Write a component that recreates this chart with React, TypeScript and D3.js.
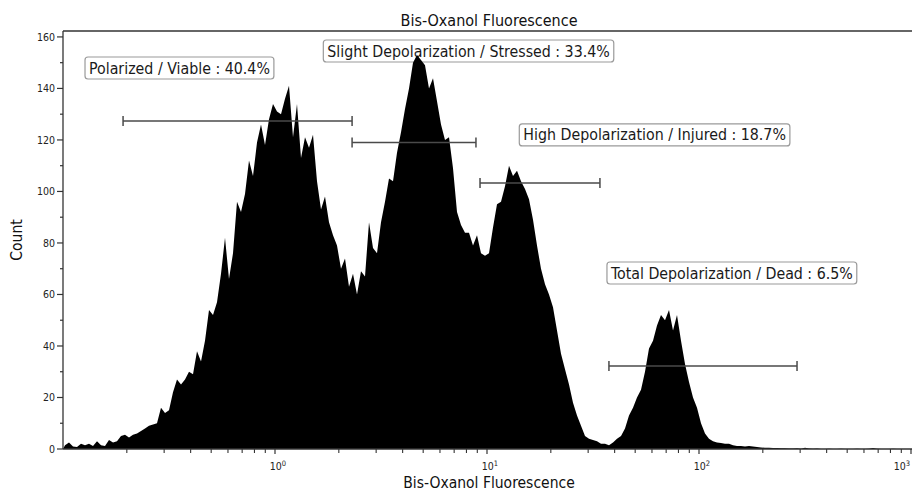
import React from 'react';
import * as d3 from 'd3';

const TITLE = 'Bis-Oxanol Fluorescence';
const X_LABEL = 'Bis-Oxanol Fluorescence';
const Y_LABEL = 'Count';

// log channels, 53 per decade starting at 10^-1
const CHANNELS_PER_DECADE = 53;
const X_MIN = 0.1;
const X_MAX = 1000;

// counts per channel
const COUNTS = [
  1.5, 2.5, 1, 0.8, 2, 1.5, 2, 1.2, 3, 1.5,
  1.2, 3.5, 2.5, 3, 5, 5.5, 4.5, 5.5, 6, 7,
  8, 9, 9.5, 10, 16, 14, 15, 22, 27, 25,
  27, 30, 29, 38, 34, 42, 54, 52, 57, 68,
  82, 66, 76, 96, 92, 99, 112, 106, 119, 126,
  118, 128, 134, 131, 130, 136, 141, 121, 134, 113,
  121, 117, 122, 104, 93, 98, 88, 83, 79, 70,
  74, 63, 68, 60, 69, 67, 88, 78, 76, 88,
  96, 105, 104, 115, 123, 132, 140, 150, 153, 151,
  149, 140, 144, 135, 126, 120, 121, 109, 92, 87,
  84, 84, 79, 83, 76, 75, 76, 86, 95, 96,
  102, 110, 106, 108, 104, 101, 97, 89, 79, 70,
  64, 60, 55, 46, 37, 31, 25, 18, 13, 9,
  5, 4, 3.5, 3, 2, 2, 1.5, 2.5, 4, 5,
  8, 13, 16, 20, 23, 30, 39, 42, 48, 52,
  50, 54, 46, 52, 42, 33, 26, 20, 16, 10,
  6, 4, 3, 2.5, 2.3, 2, 2, 1.5, 1.2, 1.2,
  1, 1.2, 1, 0.8, 0.6, 0.5, 0.5, 0.4, 0.4, 0.3,
  0.3, 0.2, 0.2, 0.3, 0.1, 0.5, 0.2, 0.1, 0.2, 0,
  0, 0.1, 0, 0, 0.1, 0, 0, 0, 0.1, 0,
  0, 0.1, 0.4, 0.1, 0, 0, 0, 0.1, 0, 0, 0, 0,
];

const Y_MAX = 162.3;
const Y_TICKS = [0, 20, 40, 60, 80, 100, 120, 140, 160];
const Y_MINOR = [10, 30, 50, 70, 90, 110, 130, 150];
const X_DECADES = [0, 1, 2, 3];

const GATE_NAMES = [
  'Polarized / Viable',
  'Slight Depolarization / Stressed',
  'High Depolarization / Injured',
  'Total Depolarization / Dead',
];
const GATE_PCT = ['40.4%', '33.4%', '18.7%', '6.5%'];
const GATE_LO = [0.192, 2.31, 9.27, 37.6];
const GATE_HI = [2.31, 8.87, 34.1, 290];
const GATE_LEVEL = [127.4, 119, 103.3, 32.2];
// top-left corner of each gate's label, in data units
const LABEL_X = [0.127, 1.69, 14.2, 36.8];
const LABEL_Y = [152.2, 158.8, 126.2, 72.6];

const W = 912;
const H = 494;
const FONT = "'DejaVu Sans Condensed', 'DejaVu Sans', sans-serif";

let ctx: CanvasRenderingContext2D | null = null;
function textWidth(s: string, size: number) {
  if (!ctx) ctx = document.createElement('canvas').getContext('2d');
  if (!ctx) return s.length * size * 0.5;
  ctx.font = `${size}px ${FONT}`;
  return ctx.measureText(s).width;
}

export default function App() {
  const x = d3.scaleLog().domain([X_MIN, X_MAX]).range([63, 911]);
  const y = d3.scaleLinear().domain([0, Y_MAX]).range([449, 31]);

  const chVal = (i: number) => Math.pow(10, Math.log10(X_MIN) + (i + 0.5) / CHANNELS_PER_DECADE);

  // pad with zeros at the axis ends so the area closes on the baseline
  const pts = [0, ...COUNTS, 0];
  const area = d3.area<number>()
    .x((d, i) => i === 0 ? x(X_MIN) : i === pts.length - 1 ? x(X_MAX) : x(chVal(i - 1)))
    .y0(y(0))
    .y1(d => y(d))
    .curve(d3.curveLinear);

  const minorX: number[] = [];
  for (let d = -1; d < 3; d++) {
    for (let k = 2; k <= 9; k++) minorX.push(k * Math.pow(10, d));
  }

  const labelSize = 15.8;

  return (
    <svg width={W} height={H} style={{ position: 'absolute', left: 0, top: 0, display: 'block', background: '#fff' }}
      fontFamily={FONT}>
      <defs>
        <clipPath id="plot">
          <rect x={63} y={31} width={W - 63} height={449 - 31} />
        </clipPath>
      </defs>

      <text x={489} y={26} textAnchor="middle" fontSize={16} fill="#111">{TITLE}</text>

      {GATE_NAMES.map((n, i) => {
        const s = `${n} : ${GATE_PCT[i]}`;
        const w = textWidth(s, labelSize) + 8;
        const bx = x(LABEL_X[i]);
        const by = y(LABEL_Y[i]);
        return (
          <g key={'lab' + i}>
            <rect x={bx} y={by} width={w} height={22} rx={3} fill="#fff" stroke="#9a9a9a" strokeWidth={1.2} />
            <text x={bx + 4} y={by + 16.5} fontSize={labelSize} fill="#1a1a1a">{s}</text>
          </g>
        );
      })}

      <path d={area(pts) || ''} fill="#000" clipPath="url(#plot)" />

      {GATE_LO.map((lo, i) => {
        const x0 = x(lo), x1 = x(GATE_HI[i]), gy = y(GATE_LEVEL[i]);
        return (
          <g key={'gate' + i} stroke="#4a4a4a" strokeWidth={1.5}>
            <line x1={x0} x2={x1} y1={gy} y2={gy} />
            <line x1={x0} x2={x0} y1={gy - 5} y2={gy + 5} />
            <line x1={x1} x2={x1} y1={gy - 5} y2={gy + 5} />
          </g>
        );
      })}

      <line x1={63} x2={W} y1={31} y2={31} stroke="#333" strokeWidth={1.3} />
      <line x1={63} x2={63} y1={31} y2={449} stroke="#333" strokeWidth={1.3} />
      <line x1={63} x2={W} y1={449} y2={449} stroke="#333" strokeWidth={1.3} />

      {Y_TICKS.map(t => (
        <g key={'yt' + t}>
          <line x1={57} x2={63} y1={y(t)} y2={y(t)} stroke="#333" strokeWidth={1.2} />
          <text x={55} y={y(t) + 3.8} textAnchor="end" fontSize={10.5} fill="#222">{t}</text>
        </g>
      ))}
      {Y_MINOR.map(t => (
        <line key={'ym' + t} x1={60} x2={63} y1={y(t)} y2={y(t)} stroke="#333" strokeWidth={1.2} />
      ))}
      <text transform={`translate(22,${240}) rotate(-90)`} textAnchor="middle" fontSize={15.5} fill="#111">{Y_LABEL}</text>

      {minorX.map((v, i) => (
        <line key={'xm' + i} x1={x(v)} x2={x(v)} y1={449} y2={453} stroke="#333" strokeWidth={1.1} />
      ))}
      {X_DECADES.map(e => {
        const px = x(Math.pow(10, e));
        // last decade label sits at the page edge, keep it inside
        const last = px > W - 12;
        return (
          <g key={'xd' + e}>
            <line x1={px} x2={px} y1={449} y2={454} stroke="#333" strokeWidth={1.2} />
            <text x={last ? W - 2 : px + 3} y={470} textAnchor={last ? 'end' : 'middle'} fontSize={10.5} fill="#222">
              10<tspan dy={-4.5} fontSize={7.5}>{e}</tspan>
            </text>
          </g>
        );
      })}
      <text x={489} y={488} textAnchor="middle" fontSize={15.5} fill="#111">{X_LABEL}</text>
    </svg>
  );
}
